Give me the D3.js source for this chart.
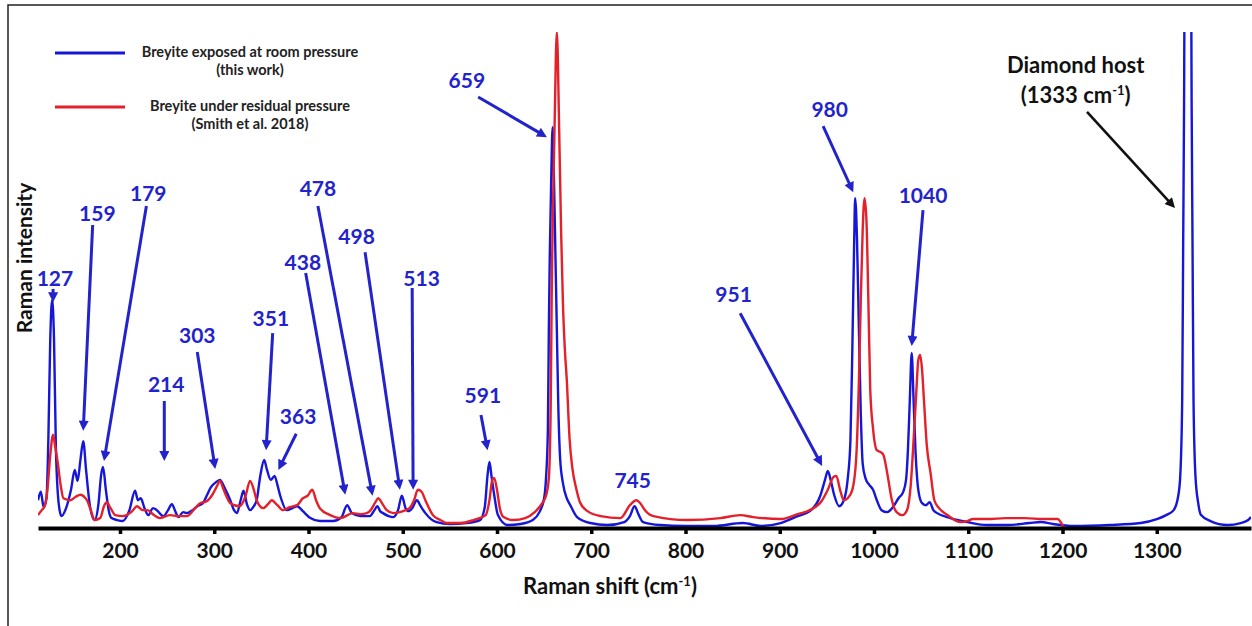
<!DOCTYPE html>
<html>
<head>
<meta charset="utf-8">
<script src="https://cdn.jsdelivr.net/npm/d3@7"></script>
<style>
  body { margin: 0; background: #fff; }
  text { font-family: Lato, "Open Sans", sans-serif; font-weight: bold; }
</style>
</head>
<body>
<div id="chart"></div>
<script>
// Raman spectra: [shift (cm-1), intensity (arb. units, 0-100)]
const blueSpectrum = [
  [113,5.6],[116,7.3],[119,4.2],[122,6.0],[124,18],[126,38],[128,46],[130,38],[132,16],[134,7.0],
  [136,3.5],[138,2.4],[142,3.6],[148,7.7],[152,11.7],[155,9.5],[158,13.7],[161,17.5],[164,11.7],[168,4.6],[173,1.6],
  [177,4.6],[180,10.7],[182,12.3],[185,7.7],[188,3.6],[191,2.0],[197,1.6],[203,1.4],[210,3.6],[216,7.5],
  [219,5.6],[222,6.0],[226,4.0],[230,2.6],[235,4.0],[239,3.6],[246,2.4],[251,3.6],[255,4.8],[259,3.2],
  [262,2.2],[267,3.2],[271,3.0],[277,3.6],[282,4.4],[288,5.0],[292,6.5],[296,8.1],[301,9.1],[306,9.7],
  [311,8.1],[317,5.6],[321,3.6],[324,3.0],[328,5.6],[331,7.5],[335,4.6],[338,3.6],[342,4.4],[345,5.6],
  [349,10.7],[353,13.7],[356,11.7],[360,9.7],[364,10.5],[367,8.7],[370,6.5],[377,3.6],[383,4.0],[388,4.4],
  [394,3.4],[402,2.0],[412,1.4],[426,1.4],[435,2.2],[441,4.6],[446,3.0],[455,2.4],[465,2.4],[470,3.6],
  [473,4.4],[476,3.4],[479,3.0],[485,2.4],[490,2.2],[495,3.6],[499,6.5],[503,4.0],[506,3.4],[510,4.0],
  [515,5.6],[519,4.4],[524,3.0],[530,1.8],[536,1.2],[550,0.8],[568,1.0],[582,1.6],[587,4.2],[590,10.7],
  [592,13.3],[594,10.7],[597,6.7],[601,2.6],[611,0.6],[625,0.8],[638,1.6],[645,3.2],[650,6.0],[652,10],
  [654,20],[655,40],[656,55],[657.5,70],[659,80.8],[660.5,70],[662,55],[663.5,40],[665,25],[667,14],
  [670,9.0],[674,6.0],[678,4.5],[685,2.2],[699,1.0],[717,0.6],[735,1.2],[741,2.4],[746,4.4],[750,2.8],
  [755,1.2],[773,0.6],[800,0.4],[830,0.4],[861,1.0],[880,0.4],[901,1.0],[919,2.4],[932,3.4],[943,6.5],
  [948,9.7],[951,11.5],[954,9.7],[958,6.5],[963,4.4],[968,5.6],[972,9.7],[975,17.7],[977,35.9],[979,58.1],
  [980,66.5],[982,58],[984,39.9],[986,23],[988,13],[991,10],[995,8.7],[999,7.7],[1003,5.6],[1008,3.6],
  [1014,3.2],[1020,4.2],[1026,6.0],[1031,7.3],[1034,9.7],[1036,15.7],[1038,25.8],[1040,35.3],[1042,25.8],[1044,15.7],
  [1047,7.7],[1051,5.0],[1055,4.6],[1059,5.2],[1063,3.6],[1067,3.0],[1081,2.0],[1099,1.2],[1120,0.6],[1142,0.6],
  [1165,1.0],[1177,1.2],[1190,0.8],[1212,0.4],[1250,0.6],[1283,1.0],[1300,1.8],[1310,2.6],[1318,3.6],[1323,6.7],
  [1325,10.7],[1327,25.8],[1328,56],[1329,86],[1330,130],[1336,130],[1337,86],[1338,56],[1339,26],[1341,10.7],
  [1344,5.0],[1347,2.6],[1357,1.4],[1375,0.6],[1389,1.0],[1397,1.6],[1400,2.2]
];

const redSpectrum = [
  [113,2.6],[117,3.6],[120,4.4],[123,7.7],[126,14.7],[129,18.8],[131,16.7],[134,13.1],[137,8.7],[140,6.0],
  [147,5.6],[153,6.3],[158,6.7],[162,6.3],[165,5.6],[169,3.6],[173,1.6],[179,2.0],[183,4.4],[186,5.2],
  [190,4.0],[195,2.6],[203,2.4],[213,3.4],[218,4.4],[224,3.6],[229,3.6],[236,2.6],[242,2.0],[253,2.6],
  [262,2.4],[271,2.4],[278,3.6],[285,5.0],[292,5.4],[298,6.7],[303,8.5],[306,9.5],[310,7.7],[317,5.0],
  [327,4.4],[333,6.3],[338,9.5],[342,7.7],[345,5.6],[352,4.0],[357,4.8],[361,5.6],[367,4.6],[373,3.6],
  [380,4.2],[388,4.6],[394,6.0],[399,6.5],[404,7.7],[408,5.6],[412,4.0],[423,2.6],[434,2.0],[447,3.0],
  [455,2.8],[462,3.0],[466,3.6],[471,5.2],[474,6.0],[478,5.0],[483,3.6],[490,3.0],[497,3.2],[503,3.6],
  [508,4.2],[512,5.6],[516,7.7],[520,7.3],[524,5.6],[532,2.6],[540,1.6],[547,1.0],[561,1.0],[575,1.6],
  [588,2.6],[592,5.6],[595,9.7],[597,10.1],[600,7.7],[603,4.0],[607,2.2],[617,1.6],[630,2.0],[640,3.2],
  [648,5.0],[652,6.5],[655,10],[657,25],[658,46],[661,80],[663.5,100],[666,80],[668,60],[670,45],
  [672,36],[674,30],[677,18],[680,12],[684,8.0],[688,5.2],[696,3.4],[710,2.4],[731,2.0],[741,4.6],
  [748,5.6],[752,5.0],[757,3.6],[766,2.4],[802,1.6],[837,2.0],[858,2.6],[872,2.2],[901,1.8],[919,2.8],
  [932,3.6],[945,5.6],[951,7.7],[957,10.3],[960,10.5],[964,7.7],[968,5.6],[972,6.0],[977,7.7],[981,13.7],
  [984,29.8],[986,46],[988,60.1],[990,66.5],[992,62],[994,46],[996,28],[999,20],[1003,15.7],[1007,15.3],
  [1010,14.7],[1014,11.1],[1019,5.6],[1024,3.2],[1030,2.6],[1035,3.6],[1039,8.7],[1042,17.7],[1045,27.8],[1047,33.9],
  [1049,34.9],[1051,31.9],[1053,25.8],[1056,16.7],[1060,11.1],[1064,5.6],[1069,4.0],[1078,2.6],[1092,1.2],[1099,1.4],
  [1105,1.8],[1120,1.8],[1140,2.0],[1160,2.0],[1180,1.8],[1195,1.8],[1198,1.2],[1201,0.2]
];

const xTicks = [200, 300, 400, 500, 600, 700, 800, 900, 1000, 1100, 1200, 1300];

const peakLabels = ["127", "159", "179", "214", "303", "351", "363", "438", "478", "498", "513",
                    "591", "659", "745", "951", "980", "1040"];

// label anchor and arrow (from -> to), all in data units [shift, intensity]
const labelAt = [[131,50.4],[176,63.5],[230,67.5],[249,29.0],[282,38.9],[360,42.3],[389,22.4],[394,53.6],
                 [410,68.5],[451,58.7],[520,50.4],[585,26.8],[568,90.3],[744,9.5],[851,47.0],[953,84.3],[1052,67.1]];
const arrowFrom = [[129,48.2],[171,61.1],[228,64.9],[247,25.6],[282,35.5],[362,39.3],[387,19.0],[397,51.4],
                   [410,64.9],[460,55.6],[510,48.4],[583,22.8],[580,86.9],null,[858,43.3],[946,81.0],[1052,64.1]];
const arrowTo = [[129,45.5],[161,19.6],[183,13.5],[247,13.5],[301,11.9],[355,15.7],[368,11.7],[439,6.7],
                 [468,6.5],[497,7.7],[511,7.7],[590,15.7],[653,78.8],null,[945,12.5],[978,67.7],[1040,36.7]];

const legendNames = [["Breyite exposed at room pressure", "(this work)"],
                     ["Breyite under residual pressure", "(Smith et al. 2018)"]];

const svgWidth = 1252, svgHeight = 626;
const blue = "#1616d8", red = "#e4202a", labelBlue = "#2323cc";

const svg = d3.select("#chart").append("svg")
  .attr("width", svgWidth)
  .attr("height", svgHeight);

const x = d3.scaleLinear().domain([113, 1400]).range([38, 1251]);
const y = d3.scaleLinear().domain([0, 100]).range([528, 32]);

// frame (top and left edge of the original figure)
svg.append("path")
  .attr("d", `M8,${svgHeight} L8,5 L${svgWidth},5`)
  .attr("fill", "none")
  .attr("stroke", "#222")
  .attr("stroke-width", 1.5);

const defs = svg.append("defs");
defs.append("clipPath").attr("id", "plotClip")
  .append("rect").attr("x", 38).attr("y", 32).attr("width", 1213).attr("height", 496);

[["headBlue", labelBlue], ["headBlack", "#111"]].forEach(([id, c]) => {
  defs.append("marker")
    .attr("id", id)
    .attr("viewBox", "0 0 10 10")
    .attr("refX", 10).attr("refY", 5)
    .attr("markerUnits", "userSpaceOnUse")
    .attr("markerWidth", 12).attr("markerHeight", 10)
    .attr("orient", "auto")
    .append("path").attr("d", "M0,0 L10,5 L0,10 Z").attr("fill", c);
});

// spectra
const line = d3.line()
  .x(d => x(d[0]))
  .y(d => y(d[1]))
  .curve(d3.curveMonotoneX);

const plot = svg.append("g").attr("clip-path", "url(#plotClip)");
plot.append("path").datum(blueSpectrum)
  .attr("d", line).attr("fill", "none").attr("stroke", blue).attr("stroke-width", 2.4);
plot.append("path").datum(redSpectrum)
  .attr("d", line).attr("fill", "none").attr("stroke", red).attr("stroke-width", 2.4);

// x axis
const xAxis = svg.append("g")
  .attr("transform", `translate(0, ${y(0)})`)
  .call(d3.axisBottom(x).tickValues(xTicks).tickFormat(d3.format("d"))
    .tickSize(6).tickSizeOuter(0).tickPadding(9));
xAxis.select(".domain").attr("stroke", "#000").attr("stroke-width", 4);
xAxis.selectAll(".tick line").attr("stroke", "#000").attr("stroke-width", 3.5);
xAxis.selectAll(".tick text")
  .attr("font-size", 21).attr("font-family", "Lato, sans-serif").attr("font-weight", "bold").attr("fill", "#111");

const xTitle = svg.append("text")
  .attr("x", 610).attr("y", 594)
  .attr("text-anchor", "middle")
  .attr("font-size", 22)
  .attr("fill", "#111");
xTitle.append("tspan").text("Raman shift (cm");
xTitle.append("tspan").text("-1").attr("font-size", 13).attr("dy", -8);
xTitle.append("tspan").text(")").attr("dy", 8);

svg.append("text")
  .attr("transform", "translate(32, 258) rotate(-90)")
  .attr("text-anchor", "middle")
  .attr("font-size", 21)
  .attr("fill", "#111")
  .text("Raman intensity");

// legend
const legend = svg.append("g");
[blue, red].forEach((c, i) => {
  const ly = 53 + i * 54;
  legend.append("line")
    .attr("x1", 55).attr("x2", 125).attr("y1", ly).attr("y2", ly)
    .attr("stroke", c).attr("stroke-width", 2.8);
  legend.append("text")
    .attr("x", 250).attr("y", ly + 4)
    .attr("text-anchor", "middle").attr("font-size", 14.5).attr("fill", "#222")
    .text(legendNames[i][0]);
  legend.append("text")
    .attr("x", 250).attr("y", ly + 22)
    .attr("text-anchor", "middle").attr("font-size", 14.5).attr("fill", "#222")
    .text(legendNames[i][1]);
});

// shorten a segment so the arrow head tip lands on the target
function shortened(p0, p1, cut) {
  const dx = p1[0] - p0[0], dy = p1[1] - p0[1];
  const len = Math.sqrt(dx * dx + dy * dy);
  return [p1[0] - dx / len * cut, p1[1] - dy / len * cut];
}

// peak annotations
const notes = svg.append("g");
peakLabels.forEach((lab, i) => {
  notes.append("text")
    .attr("x", x(labelAt[i][0])).attr("y", y(labelAt[i][1]))
    .attr("dy", "0.36em")
    .attr("text-anchor", "middle")
    .attr("font-size", 21)
    .attr("fill", labelBlue)
    .text(lab);
  if (arrowFrom[i]) {
    const p0 = [x(arrowFrom[i][0]), y(arrowFrom[i][1])];
    const p1 = [x(arrowTo[i][0]), y(arrowTo[i][1])];
    const p1s = shortened(p0, p1, 6);
    notes.append("line")
      .attr("x1", p0[0]).attr("y1", p0[1]).attr("x2", p1s[0]).attr("y2", p1s[1])
      .attr("stroke", labelBlue).attr("stroke-width", 3);
    notes.append("line")
      .attr("x1", p1s[0]).attr("y1", p1s[1]).attr("x2", p1[0]).attr("y2", p1[1])
      .attr("stroke", "none")
      .attr("marker-end", "url(#headBlue)");
  }
});

// diamond host note
const dText = svg.append("g").attr("fill", "#111");
dText.append("text")
  .attr("x", x(1214)).attr("y", y(93.3)).attr("dy", "0.36em")
  .attr("text-anchor", "middle").attr("font-size", 22)
  .text("Diamond host");
const dSub = dText.append("text")
  .attr("x", x(1214)).attr("y", y(87.3)).attr("dy", "0.36em")
  .attr("text-anchor", "middle").attr("font-size", 22);
dSub.append("tspan").text("(1333 cm");
dSub.append("tspan").text("-1").attr("font-size", 13).attr("dy", -8);
dSub.append("tspan").text(")").attr("dy", 8);

const d0 = [x(1226), y(83.9)], d1 = [x(1319.4), y(64.5)];
const d1s = shortened(d0, d1, 6);
svg.append("line")
  .attr("x1", d0[0]).attr("y1", d0[1]).attr("x2", d1s[0]).attr("y2", d1s[1])
  .attr("stroke", "#111").attr("stroke-width", 2.6);
svg.append("line")
  .attr("x1", d1s[0]).attr("y1", d1s[1]).attr("x2", d1[0]).attr("y2", d1[1])
  .attr("marker-end", "url(#headBlack)");
</script>
</body>
</html>
